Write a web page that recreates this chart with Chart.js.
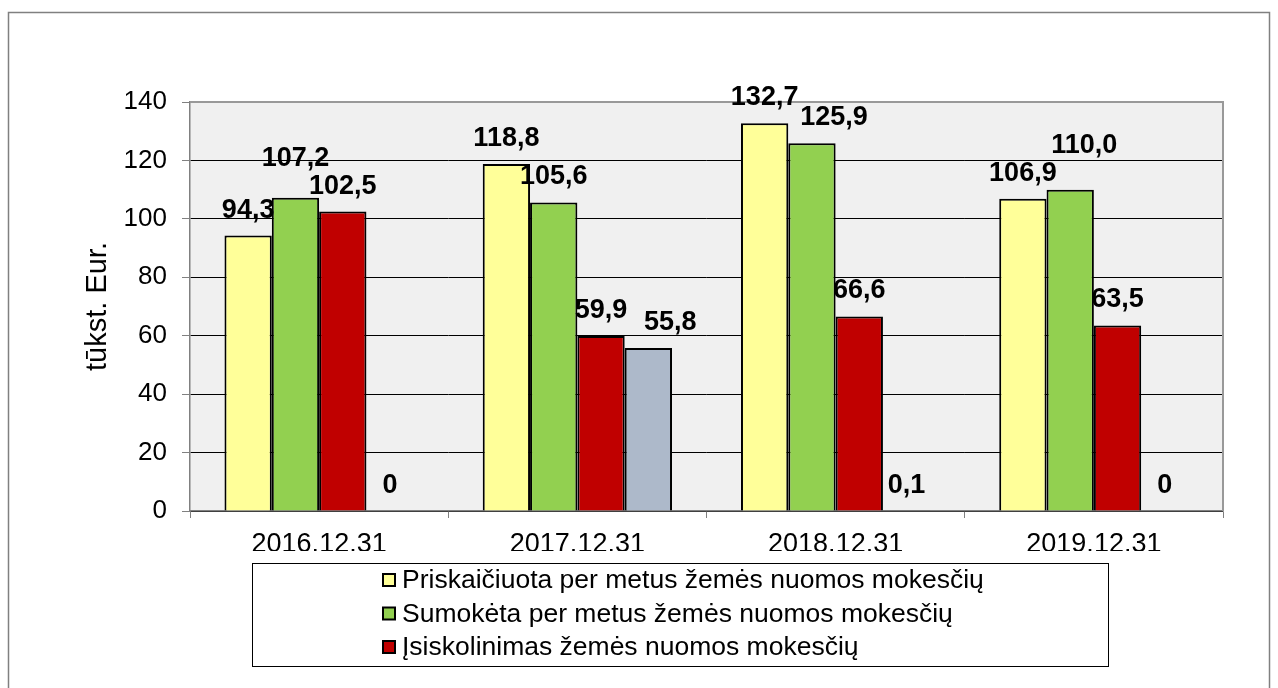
<!DOCTYPE html>
<html>
<head>
<meta charset="utf-8">
<script src="https://cdn.jsdelivr.net/npm/chart.js@4.4.1/dist/chart.umd.min.js"></script>
<style>
  html, body { margin: 0; padding: 0; background: #fff; }
  canvas { display: block; }
</style>
</head>
<body>
<canvas id="chart" width="1278" height="688"></canvas>
<script>
const categories = ['2016.12.31', '2017.12.31', '2018.12.31', '2019.12.31'];
const seriesNames = [
    'Priskaičiuota per metus žemės nuomos mokesčių',
    'Sumokėta per metus žemės nuomos mokesčių',
    'Įsiskolinimas žemės nuomos mokesčių',
    ''
];
const assessed = [94.3, 118.8, 132.7, 106.9];
const paid = [107.2, 105.6, 125.9, 110.0];
const debt = [102.5, 59.9, 66.6, 63.5];
const extra = [0, 55.8, 0.1, 0];
const yTicks = [0, 20, 40, 60, 80, 100, 120, 140];

const colors = ['#ffff99', '#92d050', '#c00000', '#adb9ca'];
const FONT = 'Arial, "Liberation Sans", sans-serif';

// a few labels are nudged aside in the original (dataset-index: [dx, dy])
const labelShift = { '1-0': [0, -14], '1-2': [22, 0], '1-3': [14, -19], '3-1': [22, 0] };

function fmt(v) {
    return v === 0 ? '0' : v.toFixed(1).replace('.', ',');
}

const framePlugin = {
    id: 'frame',
    beforeDraw(chart) {
        const ctx = chart.ctx;
        const a = chart.chartArea;
        ctx.save();
        ctx.fillStyle = '#fff';
        ctx.fillRect(0, 0, chart.width, chart.height);
        ctx.strokeStyle = '#808080';
        ctx.lineWidth = 1.5;
        ctx.strokeRect(8.5, 12.5, chart.width - 17, chart.height + 10);
        ctx.fillStyle = '#f0f0f0';
        ctx.fillRect(a.left, a.top, a.right - a.left, a.bottom - a.top);
        ctx.restore();
    },
    afterDatasetsDraw(chart) {
        const ctx = chart.ctx;
        const a = chart.chartArea;
        ctx.save();
        ctx.strokeStyle = '#999';
        ctx.lineWidth = 2;
        ctx.beginPath();
        ctx.moveTo(a.left, a.top);
        ctx.lineTo(a.right, a.top);
        ctx.lineTo(a.right, a.bottom);
        ctx.stroke();

        // value labels
        ctx.fillStyle = '#000';
        ctx.font = 'bold 27px ' + FONT;
        ctx.textAlign = 'center';
        ctx.textBaseline = 'alphabetic';
        chart.data.datasets.forEach((ds, di) => {
            chart.getDatasetMeta(di).data.forEach((bar, i) => {
                const s = labelShift[di + '-' + i] || [0, 0];
                ctx.fillText(fmt(ds.data[i]), bar.x + s[0], bar.y - 18 + s[1]);
            });
        });
        ctx.restore();
    },
    afterDraw(chart) {
        // boxed legend, one entry per line, last series left out
        const ctx = chart.ctx;
        ctx.save();
        ctx.strokeStyle = '#000';
        ctx.lineWidth = 1;
        ctx.strokeRect(252.5, 563.5, 856, 103);
        ctx.font = '26.5px ' + FONT;
        ctx.textBaseline = 'middle';
        ctx.textAlign = 'left';
        for (let i = 0; i < 3; i++) {
            const y = 580 + i * 33.5;
            ctx.fillStyle = colors[i];
            ctx.fillRect(383, y - 6, 12, 12);
            ctx.strokeStyle = '#000';
            ctx.lineWidth = 2;
            ctx.strokeRect(383, y - 6, 12, 12);
            ctx.fillStyle = '#000';
            ctx.fillText(seriesNames[i], 402, y + 1);
        }
        ctx.restore();
    }
};

const series = [assessed, paid, debt, extra];

new Chart(document.getElementById('chart'), {
    type: 'bar',
    data: {
        labels: categories,
        datasets: series.map((d, i) => ({
            label: seriesNames[i],
            data: d,
            backgroundColor: colors[i],
            borderColor: '#000',
            borderWidth: 2,
            categoryPercentage: 0.733,
            barPercentage: 1
        }))
    },
    options: {
        responsive: false,
        animation: false,
        devicePixelRatio: 1,
        layout: { padding: { left: 76, right: 55, top: 102, bottom: 137 } },
        plugins: {
            legend: { display: false },
            tooltip: { enabled: false }
        },
        scales: {
            x: {
                grid: { display: true, drawOnChartArea: false, tickLength: 7, color: '#808080' },
                border: { color: '#808080', width: 1.5 },
                ticks: { color: '#000', font: { family: FONT, size: 27 }, padding: 10 },
                afterFit(scale) { scale.height = 40; }
            },
            y: {
                min: 0,
                max: 140,
                afterBuildTicks(scale) { scale.ticks = yTicks.map(v => ({ value: v })); },
                grid: { color: '#000', lineWidth: 1, tickLength: 8, tickColor: '#808080' },
                border: { color: '#808080', width: 1.5 },
                ticks: { color: '#000', font: { family: FONT, size: 26 }, padding: 15 },
                title: {
                    display: true,
                    text: 'tūkst. Eur.',
                    color: '#000',
                    font: { family: FONT, size: 29 },
                    padding: { top: 5, bottom: 4 }
                },
                afterFit(scale) { scale.width = 114; }
            }
        }
    },
    plugins: [framePlugin]
});
</script>
</body>
</html>
